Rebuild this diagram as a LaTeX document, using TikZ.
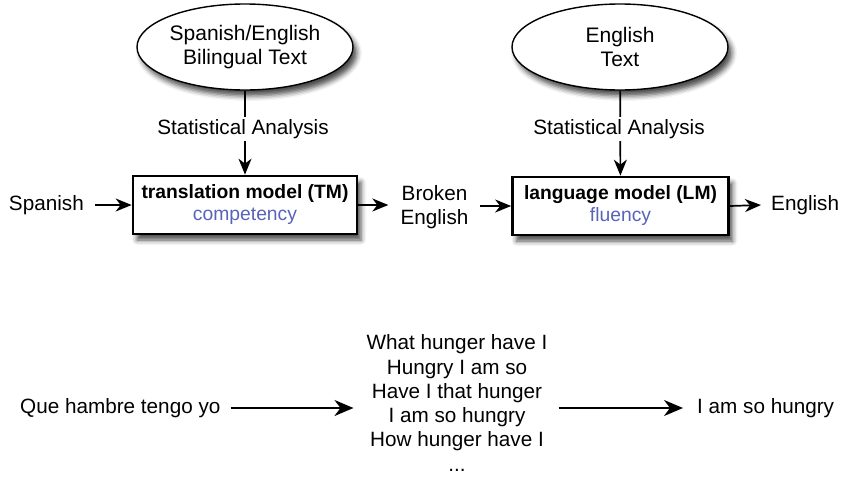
\documentclass[tikz,border=0pt]{standalone}
\usepackage{fontspec}
\setmainfont{Liberation Sans}
\usetikzlibrary{shapes.geometric,arrows.meta,shadows.blur}
\definecolor{fblue}{RGB}{88,99,186}
\begin{document}
\begin{tikzpicture}[x=1pt,y=-1pt,
  every node/.style={font=\fontsize{20.7}{24.5}\selectfont, align=center},
  shad/.style={blur shadow={shadow xshift=4pt,shadow yshift=-6pt,shadow blur radius=5pt,shadow opacity=70}},
  src/.style={ellipse, draw, line width=1.4pt, fill=white, inner sep=0pt,
    minimum width=216pt, minimum height=86pt, font=\fontsize{21}{24}\selectfont, shad},
  model/.style={rectangle, draw, line width=2.7pt, fill=white, minimum height=58pt,
    font=\fontsize{19.3}{22}\selectfont, shad},
  arr/.style={line width=1.7pt, -{Stealth[length=16pt,width=13pt,inset=5pt]}},
  barr/.style={line width=1.9pt, -{Stealth[length=19pt,width=16pt,inset=6pt]}},
  lbl/.style={fill=white, inner sep=2pt}]
\useasboundingbox (0,0) rectangle (844,477);

% top row
\node[src] (e1) at (245,47) {Spanish/English\\Bilingual Text};
\node[src] (e2) at (620,47) {English\\Text};
\node[model, minimum width=224pt] (tm) at (245,205)
  {\textbf{translation model (TM)}\\\textcolor{fblue}{competency}};
\node[model, minimum width=216pt] (lm) at (620.5,206)
  {\textbf{language model (LM)}\\\textcolor{fblue}{fluency}};

\draw[arr] (e1) -- (tm);
\node[lbl] (sa1) at (243,129) {Statistical Analysis};
\draw[arr] (e2) -- (lm);
\node[lbl] (sa2) at (619,129) {Statistical Analysis};

\node[anchor=east, inner sep=0pt] (sp) at (84,205) {Spanish};
\node[inner sep=0pt] (be) at (434.5,207) {Broken\\English};
\node[anchor=west, inner sep=0pt] (en) at (771,205) {English};

\draw[arr] (sp.east) ++(11,0) coordinate (sps) -- (tm.west |- sps);
\draw[arr] (tm.east) -- ([xshift=-12pt]be.west |- tm.east);
\draw[arr] ([xshift=11pt]be.east |- lm.west) -- (lm.west);
\draw[arr] (lm.east) -- ([xshift=-10pt]en.west);

% bottom row
\node[anchor=west, inner sep=0pt] (q) at (20,408) {Que hambre tengo yo};
\node[inner sep=0pt, font=\fontsize{20.7}{24.3}\selectfont] (list) at (457,403)
  {What hunger have I\\Hungry I am so\\Have I that hunger\\I am so hungry\\How hunger have I\\...};
\node[anchor=west, inner sep=0pt] (h) at (697,408) {I am so hungry};

\draw[barr] ([xshift=10pt]q.east) -- ([xshift=-13pt]list.west |- q.east);
\draw[barr] ([xshift=11pt]list.east |- q.east) -- ([xshift=-14pt]h.west);
\end{tikzpicture}
\end{document}
